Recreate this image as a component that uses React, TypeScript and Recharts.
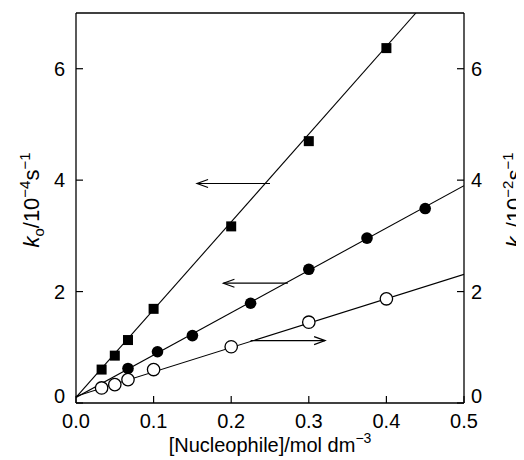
import React from 'react';
import { ComposedChart, XAxis, YAxis, Scatter, ReferenceLine, Label } from 'recharts';

const xTicks = [0, 0.1, 0.2, 0.3, 0.4, 0.5];
const yTicks = [0, 2, 4, 6];

// filled squares (left axis, 10^-4 s^-1)
const squares = [
  { x: 0.033, y: 0.6 },
  { x: 0.05, y: 0.85 },
  { x: 0.067, y: 1.13 },
  { x: 0.1, y: 1.69 },
  { x: 0.2, y: 3.17 },
  { x: 0.3, y: 4.7 },
  { x: 0.4, y: 6.37 },
];
// filled circles (left axis)
const filledCircles = [
  { x: 0.067, y: 0.62 },
  { x: 0.105, y: 0.92 },
  { x: 0.15, y: 1.21 },
  { x: 0.225, y: 1.79 },
  { x: 0.3, y: 2.4 },
  { x: 0.375, y: 2.96 },
  { x: 0.45, y: 3.49 },
];
// open circles (right axis, 10^-2 s^-1)
const openCircles = [
  { x: 0.033, y: 0.27 },
  { x: 0.05, y: 0.33 },
  { x: 0.067, y: 0.42 },
  { x: 0.1, y: 0.6 },
  { x: 0.2, y: 1.01 },
  { x: 0.3, y: 1.45 },
  { x: 0.4, y: 1.87 },
];
// fitted lines
const squaresFit = [{ x: 0, y: 0.1 }, { x: 0.438, y: 7 }];
const filledFit = [{ x: 0, y: 0.1 }, { x: 0.5, y: 3.9 }];
const openFit = [{ x: 0, y: 0.12 }, { x: 0.5, y: 2.31 }];
// annotation arrows (from line to arrow head)
const arrows = [
  { x1: 0.25, x2: 0.156, y: 3.94 },
  { x1: 0.273, x2: 0.19, y: 2.15 },
  { x1: 0.225, x2: 0.321, y: 1.12 },
];

const FONT = '"Liberation Sans", Arial, Helvetica, sans-serif';

const ArrowShape = (p: any) => {
  const { x1, y1, x2, y2 } = p;
  const dir = x2 > x1 ? 1 : -1;
  const back = 11;
  const spread = 4;
  return (
    <g>
      <line x1={x1} y1={y1} x2={x2} y2={y2} stroke="#000" strokeWidth={1.2} />
      <polyline
        points={`${x2 - dir * back},${y2 - spread} ${x2},${y2} ${x2 - dir * back},${y2 + spread}`}
        fill="none"
        stroke="#000"
        strokeWidth={1.2}
      />
    </g>
  );
};

const SquareShape = (p: any) => (
  <rect x={p.cx - 5} y={p.cy - 5} width={10} height={10} fill="#000" />
);
const FilledCircleShape = (p: any) => <circle cx={p.cx} cy={p.cy} r={5.8} fill="#000" />;
const OpenCircleShape = (p: any) => (
  <circle cx={p.cx} cy={p.cy} r={6.2} fill="#fff" stroke="#000" strokeWidth={1.3} />
);
const NoShape = () => <g />;

const YTick = (p: any) => {
  const v = p.payload.value;
  return (
    <text
      x={p.x}
      y={p.y + (v === 0 ? -7 : 0)}
      dy="0.355em"
      textAnchor={p.textAnchor}
      fontSize={20}
      fontFamily={FONT}
      fill="#000"
    >
      {v}
    </text>
  );
};

const YLabel = (exp: string, dx: number) => (props: any) => {
  const vb = props.viewBox;
  const x = vb.x + dx;
  const y = 192;
  return (
    <text
      transform={`translate(${x},${y}) rotate(-90)`}
      textAnchor="middle"
      fontSize={22}
      fontFamily={FONT}
      fill="#000"
    >
      <tspan fontStyle="italic">k</tspan>
      <tspan fontSize={15} dy={5}>o</tspan>
      <tspan dy={-5}>/10</tspan>
      <tspan fontSize={15} dy={-9}>{exp}</tspan>
      <tspan dy={9}>s</tspan>
      <tspan fontSize={15} dy={-9}>−1</tspan>
    </text>
  );
};

const XLabel = (props: any) => {
  const vb = props.viewBox;
  return (
    <text
      x={vb.x + vb.width / 2}
      y={444}
      textAnchor="middle"
      fontSize={20}
      fontFamily={FONT}
      fill="#000"
    >
      [Nucleophile]/mol dm
      <tspan fontSize={14} dy={-9}>−3</tspan>
    </text>
  );
};

export default function App() {
  return (
    <div style={{ width: 516, height: 452 }}>
      <ComposedChart
        width={516}
        height={452}
        margin={{ top: 5, right: 0, left: 0, bottom: 0 }}
        style={{ background: '#fff' }}
      >
        <XAxis
          type="number"
          dataKey="x"
          domain={[0, 0.5]}
          ticks={xTicks}
          tickFormatter={(v: number) => v.toFixed(1)}
          height={57}
          tickSize={-7}
          tickMargin={18}
          axisLine={{ stroke: '#000', strokeWidth: 1.3 }}
          tickLine={{ stroke: '#000', strokeWidth: 1.2 }}
          tick={{ fontSize: 20, fill: '#000', fontFamily: FONT }}
          allowDataOverflow
        >
          <Label content={XLabel} />
        </XAxis>
        <YAxis
          yAxisId="left"
          type="number"
          dataKey="y"
          domain={[0, 7]}
          ticks={yTicks}
          width={68}
          tickSize={-7}
          tickMargin={18}
          axisLine={{ stroke: '#000', strokeWidth: 1.3 }}
          tickLine={{ stroke: '#000', strokeWidth: 1.2 }}
          tick={YTick}
          allowDataOverflow
        >
          <Label content={YLabel('−4', 31)} />
        </YAxis>
        <YAxis
          yAxisId="right"
          orientation="right"
          type="number"
          dataKey="y"
          domain={[0, 7]}
          ticks={yTicks}
          width={60}
          tickSize={-7}
          tickMargin={14}
          axisLine={{ stroke: '#000', strokeWidth: 1.3 }}
          tickLine={{ stroke: '#000', strokeWidth: 1.2 }}
          tick={YTick}
          allowDataOverflow
        >
          <Label content={YLabel('−2', 58)} />
        </YAxis>
        <ReferenceLine yAxisId="left" y={7} stroke="#000" strokeWidth={1.3} />
        {arrows.map((a, i) => (
          <ReferenceLine
            key={i}
            yAxisId="left"
            segment={[
              { x: a.x1, y: a.y },
              { x: a.x2, y: a.y },
            ]}
            shape={ArrowShape}
            ifOverflow="visible"
          />
        ))}
        <Scatter
          yAxisId="left"
          data={squaresFit}
          line={{ stroke: '#000', strokeWidth: 1.1 }}
          shape={NoShape}
          isAnimationActive={false}
        />
        <Scatter
          yAxisId="left"
          data={filledFit}
          line={{ stroke: '#000', strokeWidth: 1.1 }}
          shape={NoShape}
          isAnimationActive={false}
        />
        <Scatter
          yAxisId="right"
          data={openFit}
          line={{ stroke: '#000', strokeWidth: 1.1 }}
          shape={NoShape}
          isAnimationActive={false}
        />
        <Scatter yAxisId="left" data={squares} shape={SquareShape} isAnimationActive={false} />
        <Scatter yAxisId="left" data={filledCircles} shape={FilledCircleShape} isAnimationActive={false} />
        <Scatter yAxisId="right" data={openCircles} shape={OpenCircleShape} isAnimationActive={false} />
      </ComposedChart>
    </div>
  );
}
